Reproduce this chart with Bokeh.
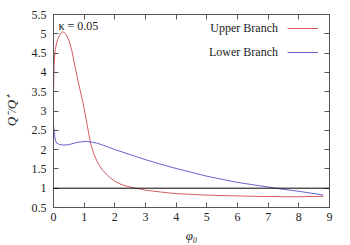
from bokeh.plotting import figure
from bokeh.models import (Range1d, FixedTicker, LinearAxis, Span, Label, Legend, LegendItem)
from bokeh.embed import file_html
from bokeh.resources import INLINE

# ---- data ----
upper_x = [0.0, 0.02, 0.05, 0.1, 0.15, 0.2, 0.25, 0.3, 0.35, 0.4, 0.5, 0.6, 0.7, 0.8, 0.9,
           1.0, 1.1, 1.2, 1.3, 1.4, 1.5, 1.6, 1.8, 2.0, 2.2, 2.4, 2.6, 2.8, 3.0, 3.5,
           4.0, 4.5, 5.0, 5.5, 6.0, 6.5, 7.0, 7.5, 8.0, 8.5, 8.8]
upper_y = [3.5, 4.2, 4.55, 4.76, 4.88, 4.96, 5.02, 5.05, 5.04, 5.0, 4.84, 4.56, 4.16, 3.78, 3.43,
           3.07, 2.63, 2.2, 1.92, 1.73, 1.58, 1.47, 1.3, 1.18, 1.1, 1.05, 1.01, 0.98, 0.95, 0.9,
           0.86, 0.84, 0.82, 0.81, 0.8, 0.79, 0.785, 0.78, 0.78, 0.785, 0.79]

lower_x = [0.0, 0.03, 0.06, 0.1, 0.2, 0.3, 0.4, 0.5, 0.6, 0.7, 0.8, 0.9, 1.0, 1.1, 1.2,
           1.4, 1.6, 1.8, 2.0, 2.5, 3.0, 3.5, 4.0, 4.5, 5.0, 5.5, 6.0, 6.5, 7.0, 7.5,
           8.0, 8.5, 8.8]
lower_y = [2.65, 2.4, 2.25, 2.17, 2.13, 2.12, 2.12, 2.13, 2.15, 2.17, 2.19, 2.2, 2.21, 2.21, 2.2,
           2.17, 2.12, 2.06, 2.0, 1.87, 1.74, 1.62, 1.51, 1.41, 1.31, 1.23, 1.15, 1.09, 1.03, 0.97,
           0.92, 0.86, 0.82]

ref_level = 1.0
kappa_text = "κ = 0.05"
series_names = ["Upper Branch", "Lower Branch"]
x_ticks = [0, 1, 2, 3, 4, 5, 6, 7, 8, 9]
y_ticks = [0.5, 1.0, 1.5, 2.0, 2.5, 3.0, 3.5, 4.0, 4.5, 5.0, 5.5]

FONT = "'Liberation Serif'"
RED = "#c8323c"
BLUE = "#3c3cc0"
AXC = "#555555"

p = figure(width=350, height=245, output_backend="svg", toolbar_location=None,
           x_range=Range1d(0, 9), y_range=Range1d(0.5, 5.5),
           min_border_left=50, min_border_right=21, min_border_top=14, min_border_bottom=38)
p.outline_line_color = AXC
p.grid.visible = False
p.background_fill_color = "white"

r_up = p.line(upper_x, upper_y, line_color=RED, line_width=0.8)
r_lo = p.line(lower_x, lower_y, line_color=BLUE, line_width=0.8)
p.add_layout(Span(location=ref_level, dimension="width", line_color="black", line_width=1))

def style(ax, labels=True):
    ax.axis_line_color = AXC
    ax.major_tick_line_color = AXC
    ax.major_tick_in = 5
    ax.major_tick_out = 0
    ax.minor_tick_line_color = None
    ax.major_label_text_font = FONT
    ax.major_label_text_font_size = "12px"
    ax.major_label_text_color = "#222222"
    ax.axis_label_text_font = FONT
    ax.axis_label_text_font_size = "13px"
    ax.axis_label_text_font_style = "italic"
    ax.axis_label_text_color = "#222222"
    if not labels:
        ax.major_label_text_color = None
        ax.major_label_standoff = 0

xa = p.xaxis[0]
ya = p.yaxis[0]
xa.ticker = FixedTicker(ticks=x_ticks)
ya.ticker = FixedTicker(ticks=y_ticks)
xa.major_label_overrides = {t: f"{t:g}" for t in x_ticks}
ya.major_label_overrides = {t: f"{t:g}" for t in y_ticks}
style(xa)
style(ya)
xa.major_label_standoff = 5
ya.major_label_standoff = 7
xa.axis_label = "φ₀"
ya.axis_label = "Q⁻/Q⁺"
xa.axis_label_standoff = 4
ya.axis_label_standoff = 10

top = LinearAxis(ticker=FixedTicker(ticks=x_ticks))
right = LinearAxis(ticker=FixedTicker(ticks=y_ticks))
style(top, labels=False)
style(right, labels=False)
p.add_layout(top, "above")
p.add_layout(right, "right")

for txt, xx, yy, al in [(kappa_text, 0.16, 5.2, "left"),
                        (series_names[0], 7.32, 5.145, "right"),
                        (series_names[1], 7.32, 4.52, "right")]:
    p.add_layout(Label(x=xx, y=yy, text=txt, text_font=FONT, text_font_size="12px",
                       text_baseline="middle", text_align=al, text_color="#222222"))

leg = Legend(items=[LegendItem(label=" ", renderers=[r_up]),
                    LegendItem(label=" ", renderers=[r_lo])],
             location=(234, 149), glyph_width=31, glyph_height=12, label_height=12,
             label_width=0, label_standoff=0, spacing=12, padding=0, margin=0,
             border_line_color=None, background_fill_alpha=0, label_text_font_size="6px")
p.add_layout(leg)

open("out.html", "w").write(file_html(p, INLINE))
